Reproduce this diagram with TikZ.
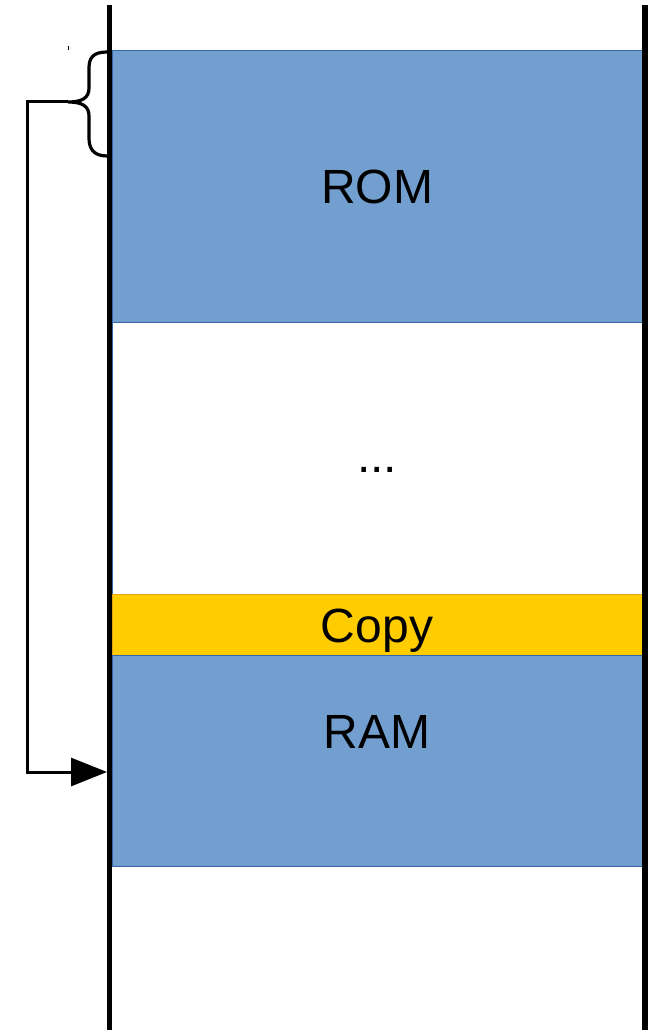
\documentclass[tikz,border=0pt]{standalone}
\usepackage{fontspec}
\setmainfont{Liberation Sans}
\usetikzlibrary{arrows.meta}
\definecolor{blockblue}{HTML}{729FCF}
\definecolor{blockedge}{HTML}{3465A4}
\definecolor{copyfill}{HTML}{FFCC00}
\definecolor{copyedge}{HTML}{E6A020}
\begin{document}
\begin{tikzpicture}[x=1pt,y=-1pt,
  region/.style={draw=blockedge,line width=0.8pt,fill=blockblue},
  label/.style={font=\fontsize{48}{52}\selectfont,text=black},
  rail/.style={line width=5pt,black},
  wire/.style={line width=3pt,black,line join=miter}]
\useasboundingbox (0,0) rectangle (656,1030);
% memory regions
\draw[region] (112,50) rectangle (642,322);
\draw[draw=blockedge,line width=0.6pt,fill=white] (112,322) rectangle (642,594);
\draw[draw=copyedge,line width=0.8pt,fill=copyfill] (112,594) rectangle (642,655);
\draw[region] (112,655) rectangle (642,866);
\node[label] (rom) at (377,187) {ROM};
\node[label] (gap) at (377,470) {...};
\node[label] (copy) at (377,631) {Copy};
\node[label] (ram) at (377,732) {RAM};
% address rails
\draw[rail] (109,5) -- (109,1030);
\draw[line width=6pt] (645,5) -- (645,1030);
% brace over the copied range
\coordinate (btop) at (107,52);
\coordinate (bbot) at (107,156);
\coordinate (btip) at (68,102);
\draw[line width=3.2pt] (btop) .. controls (93,52) and (89,58) .. (89,68) -- (89,88)
  .. controls (89,98) and (82,102) .. (btip)
  .. controls (82,102) and (89,106) .. (89,116) -- (89,138)
  .. controls (89,148) and (93,156) .. (bbot);
\draw[line width=1pt] (68,46) -- (68,50);
% copy connector
\coordinate (target) at (107,772);
\draw[wire,-{Triangle[length=36pt,width=28pt]}] (btip) -- (27,102) -- (27,772) -- (target);
\end{tikzpicture}
\end{document}
